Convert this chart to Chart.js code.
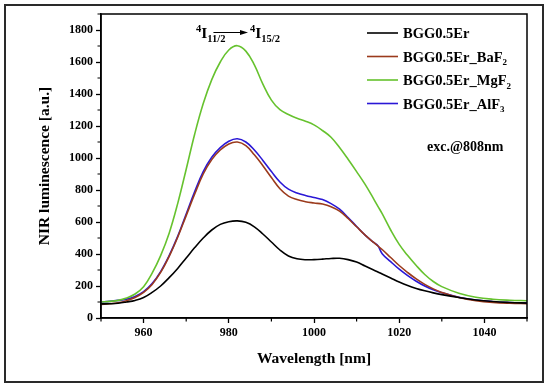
<!DOCTYPE html>
<html>
<head>
<meta charset="utf-8">
<script src="https://cdn.jsdelivr.net/npm/chart.js@4/dist/chart.umd.min.js"></script>
<style>
  html, body { margin: 0; padding: 0; background: #fff; }
  #wrap { width: 550px; height: 388px; position: relative; }
</style>
</head>
<body>
<div id="wrap"><canvas id="c" width="550" height="388"></canvas></div>
<script>
// ---- data ----
const wavelengths = [950,952,954,956,958,960,962,964,966,968,970,972,974,976,978,980,982,984,986,988,990,992,994,996,998,1000,1002,1004,1006,1008,1010,1012,1014,1015,1016,1018,1020,1022,1024,1026,1028,1030,1034,1038,1042,1046,1050];
const bgg = [88,89,92,100,110,128,160,200,252,310,375,440,500,550,585,602,607,598,570,525,475,425,388,370,364,365,368,372,373,365,350,325,300,288,275,250,225,203,185,170,157,146,128,113,103,97,93];
const bggBaF2 = [85,89,95,108,128,160,210,285,385,505,640,775,900,990,1050,1088,1100,1078,1020,952,878,808,762,740,727,719,712,696,668,622,570,518,472,450,428,378,328,284,244,210,182,160,128,108,97,92,90];
const bggMgF2 = [100,104,110,125,150,195,280,390,530,715,930,1150,1340,1490,1600,1675,1702,1668,1582,1462,1362,1302,1272,1248,1230,1207,1172,1130,1065,992,915,835,745,698,652,550,460,390,328,272,228,196,155,130,117,111,108];
const bggAlF3 = [100,104,110,118,135,165,215,290,390,510,650,790,915,1005,1065,1105,1120,1100,1050,985,915,850,805,782,766,753,740,715,680,628,572,518,472,452,402,352,305,265,230,200,176,158,130,112,102,97,95];
const seriesNames = ['BGG0.5Er', 'BGG0.5Er_BaF₂', 'BGG0.5Er_MgF₂', 'BGG0.5Er_AlF₃'];
const seriesColors = ['#000000', '#9b3a1c', '#66c22e', '#2a17d6'];
const xTickLabels = [960, 980, 1000, 1020, 1040];
const xMinorTicks = [950, 970, 990, 1010, 1030, 1050];
const yTickLabels = [0, 200, 400, 600, 800, 1000, 1200, 1400, 1600, 1800];
const yMinorTicks = [100, 300, 500, 700, 900, 1100, 1300, 1500, 1700, 1900];
const xTitle = 'Wavelength [nm]';
const yTitle = 'NIR luminescence [a.u.]';
const noteText = 'exc.@808nm';

const SERIF = '"Liberation Serif", "DejaVu Serif", serif';
const SUBS = {'₀':'0','₁':'1','₂':'2','₃':'3','₄':'4','₅':'5','₆':'6','₇':'7','₈':'8','₉':'9'};

function drawRich(ctx, x, y, parts, size, ratio) {
  ratio = ratio || 0.62;
  ctx.textAlign = 'left';
  ctx.textBaseline = 'alphabetic';
  let cx = x;
  parts.forEach(p => {
    let fs = size, dy = 0;
    if (p.mode === 'sup') { fs = size * ratio; dy = -size * 0.38; }
    if (p.mode === 'sub') { fs = size * ratio; dy = size * 0.25; }
    ctx.font = 'bold ' + fs + 'px ' + SERIF;
    ctx.fillText(p.t, cx, y + dy);
    cx += ctx.measureText(p.t).width;
  });
  return cx;
}
function splitSubs(label) {
  const parts = [];
  for (const ch of label) {
    const mode = SUBS[ch] ? 'sub' : 'n';
    const t = SUBS[ch] || ch;
    if (parts.length && parts[parts.length - 1].mode === mode) parts[parts.length - 1].t += t;
    else parts.push({t, mode});
  }
  return parts;
}

const decor = {
  id: 'decor',
  beforeDraw(chart) {
    const ctx = chart.ctx;
    ctx.save();
    ctx.fillStyle = '#fff';
    ctx.fillRect(0, 0, chart.width, chart.height);
    ctx.restore();
  },
  afterDraw(chart) {
    const ctx = chart.ctx, a = chart.chartArea;
    const xs = chart.scales.x, ys = chart.scales.y;
    ctx.save();
    ctx.strokeStyle = '#000';
    ctx.lineWidth = 1.5;
    ctx.strokeRect(a.left, a.top, a.right - a.left, a.bottom - a.top);
    ctx.lineWidth = 1.2;
    ctx.beginPath();
    xMinorTicks.forEach(v => {
      const px = xs.getPixelForValue(v);
      ctx.moveTo(px, a.bottom); ctx.lineTo(px, a.bottom + 3.5);
    });
    yMinorTicks.forEach(v => {
      const py = ys.getPixelForValue(v);
      ctx.moveTo(a.left, py); ctx.lineTo(a.left - 3.5, py);
    });
    ctx.stroke();
    ctx.strokeStyle = '#2a2a2a';
    ctx.lineWidth = 2;
    ctx.strokeRect(5, 5, 538, 377);
    ctx.fillStyle = '#000';
    ctx.font = 'bold 15.5px ' + SERIF;
    ctx.textAlign = 'center';
    ctx.textBaseline = 'middle';
    ctx.fillText(xTitle, (a.left + a.right) / 2, 359);
    ctx.save();
    ctx.translate(45, (a.top + a.bottom) / 2);
    ctx.rotate(-Math.PI / 2);
    ctx.fillText(yTitle, 0, 0);
    ctx.restore();
    const rowY = [33, 56.5, 80, 103.5];
    chart.data.datasets.forEach((ds, i) => {
      const y = rowY[i];
      ctx.strokeStyle = ds.borderColor;
      ctx.lineWidth = 1.6;
      ctx.beginPath(); ctx.moveTo(367, y); ctx.lineTo(398, y); ctx.stroke();
      ctx.fillStyle = '#000';
      drawRich(ctx, 403, y + 5, splitSubs(ds.label), 14.5);
    });
    ctx.font = 'bold 14px ' + SERIF;
    ctx.textAlign = 'left';
    ctx.textBaseline = 'middle';
    ctx.fillText(noteText, 427, 147);
    ctx.fillStyle = '#000';
    const endX = drawRich(ctx, 196, 38, [{t:'4',mode:'sup'},{t:'I',mode:'n'},{t:'11/2',mode:'sub'}], 15.5, 0.68);
    ctx.strokeStyle = '#000';
    ctx.lineWidth = 1;
    ctx.beginPath(); ctx.moveTo(endX - 12, 32.5); ctx.lineTo(244, 32.5); ctx.stroke();
    ctx.beginPath(); ctx.moveTo(248, 32.5); ctx.lineTo(240, 30); ctx.lineTo(240, 35); ctx.closePath(); ctx.fill();
    drawRich(ctx, 250, 38, [{t:'4',mode:'sup'},{t:'I',mode:'n'},{t:'15/2',mode:'sub'}], 15.5, 0.68);
    ctx.restore();
  }
};

Chart.defaults.color = '#000';
Chart.defaults.font.family = SERIF;

const datasets = [bgg, bggBaF2, bggMgF2, bggAlF3].map((vals, i) => ({
  label: seriesNames[i],
  data: wavelengths.map((w, k) => ({x: w, y: vals[k]})),
  borderColor: seriesColors[i],
  backgroundColor: seriesColors[i],
  borderWidth: 1.6,
  pointRadius: 0,
  fill: false,
  tension: 0.4
}));

new Chart(document.getElementById('c'), {
  type: 'line',
  data: { datasets },
  options: {
    responsive: false,
    animation: false,
    layout: { padding: { left: 0, top: 14, right: 23, bottom: 0 } },
    plugins: { legend: { display: false }, tooltip: { enabled: false } },
    scales: {
      x: {
        type: 'linear',
        min: 950, max: 1050,
        afterFit(s) { s.height = 70; },
        afterBuildTicks(s) { s.ticks = xTickLabels.map(v => ({value: v})); },
        ticks: { font: { size: 12, weight: 'bold' }, padding: 3, maxRotation: 0, autoSkip: false,
                 callback: v => String(v) },
        grid: { drawOnChartArea: false, tickLength: 5, tickWidth: 1.3, tickColor: '#000' },
        border: { display: true, color: '#000', width: 1.5 }
      },
      y: {
        min: 0, max: 1900,
        afterFit(s) { s.width = 101; },
        afterBuildTicks(s) { s.ticks = yTickLabels.map(v => ({value: v})); },
        ticks: { font: { size: 12, weight: 'bold' }, padding: 3, autoSkip: false,
                 callback: v => String(v) },
        grid: { drawOnChartArea: false, tickLength: 5, tickWidth: 1.3, tickColor: '#000' },
        border: { display: true, color: '#000', width: 1.5 }
      }
    }
  },
  plugins: [decor]
});
</script>
</body>
</html>
